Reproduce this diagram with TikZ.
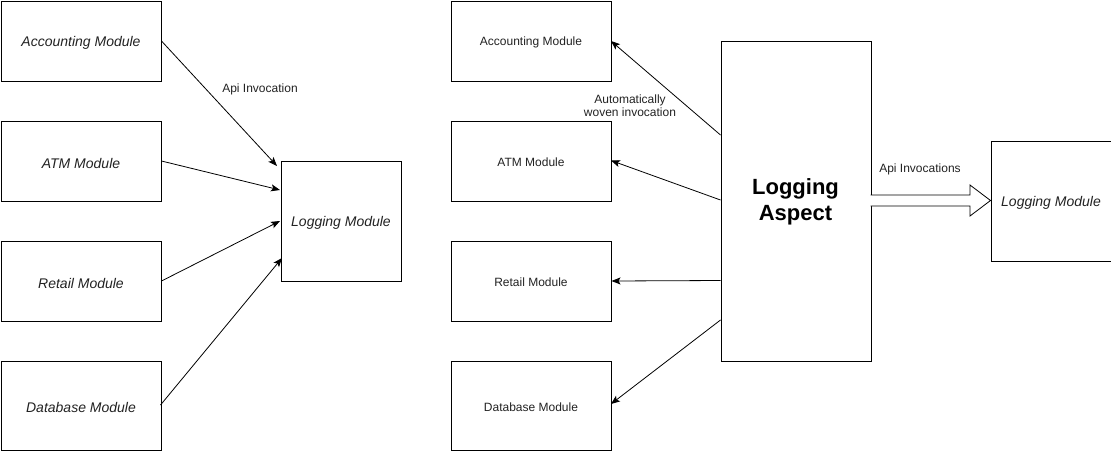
\documentclass[tikz,border=0pt]{standalone}
\usepackage{fontspec}
\setmainfont{Liberation Sans}
\usetikzlibrary{arrows.meta,shapes.arrows}
\definecolor{txt}{HTML}{222222}
\begin{document}
\begin{tikzpicture}[x=1pt,y=-1pt,
  box/.style={draw,line width=1pt,inner sep=0pt,anchor=north west},
  itl/.style={font=\fontsize{14}{16}\selectfont\itshape,text=txt,yshift=-2pt},
  reg/.style={font=\fontsize{12}{14}\selectfont,text=txt,yshift=-1.5pt},
  lbl/.style={font=\fontsize{12}{13}\selectfont,text=txt,align=center},
  conn/.style={line width=0.8pt,-{Stealth[length=9pt,width=7pt,inset=2pt]}}]
\useasboundingbox (0,0) rectangle (1111,451);
% left column
\node[box,minimum width=160pt,minimum height=80pt] (la) at (0.5,0.5) {};
\node[itl] at (la.center) {Accounting Module};
\node[box,minimum width=160pt,minimum height=80pt] (lt) at (0.5,120.5) {};
\node[itl] at (lt.center) {ATM Module};
\node[box,minimum width=160pt,minimum height=80pt] (lr) at (0.5,240.5) {};
\node[itl] at (lr.center) {Retail Module};
\node[box,minimum width=160pt,minimum height=89pt] (ld) at (0.5,360.5) {};
\node[itl] at (ld.center) {Database Module};
\node[box,minimum width=120pt,minimum height=120pt] (lm) at (280.5,160.5) {};
\node[itl] at (lm.center) {Logging Module};
\coordinate (lae) at (277,166);
\coordinate (lte) at (280,190);
\coordinate (lre) at (280,221);
\coordinate (lde) at (282,258);
\draw[conn] (la.east) -- (lae);
\draw[conn] (lt.east) -- (lte);
\draw[conn] (lr.east) -- (lre);
\draw[conn] (160.5,405) -- (lde);
\node[lbl] (l1) at (260,89) {Api Invocation};
% middle column
\node[box,minimum width=160pt,minimum height=80pt] (ma) at (450.5,0.5) {};
\node[reg] at (ma.center) {Accounting Module};
\node[box,minimum width=160pt,minimum height=80pt] (mt) at (450.5,120.5) {};
\node[reg] at (mt.center) {ATM Module};
\node[box,minimum width=160pt,minimum height=80pt] (mr) at (450.5,240.5) {};
\node[reg] at (mr.center) {Retail Module};
\node[box,minimum width=160pt,minimum height=89pt] (md) at (450.5,360.5) {};
\node[reg] at (md.center) {Database Module};
\node[box,minimum width=150pt,minimum height=320pt] (asp) at (720.5,40.5) {};
\node[font=\fontsize{22}{26}\selectfont\bfseries,align=center] at (795.5,202) {Logging\\Aspect};
\coordinate (s1) at (720.5,135);
\coordinate (s2) at (720.5,200);
\coordinate (s3) at (720.5,280.5);
\coordinate (s4) at (720.5,320);
\draw[conn] (s1) -- (611,41);
\draw[conn] (s2) -- (611,160.5);
\draw[conn] (s3) -- (mr.east);
\draw[conn] (s4) -- (611,404);
\node[lbl] (l2) at (630,106) {Automatically\\woven invocation};
% right
\node[box,minimum width=120pt,minimum height=120pt] (rm) at (990.5,140.5) {};
\node[itl] at (rm.center) {Logging Module};
\draw[line width=0.8pt,fill=white] (870.5,195) -- (970,195) -- (970,185) -- (990.5,200.5) -- (970,216) -- (970,206) -- (870.5,206);
\node[lbl] (l3) at (920,169) {Api Invocations};
\end{tikzpicture}
\end{document}
